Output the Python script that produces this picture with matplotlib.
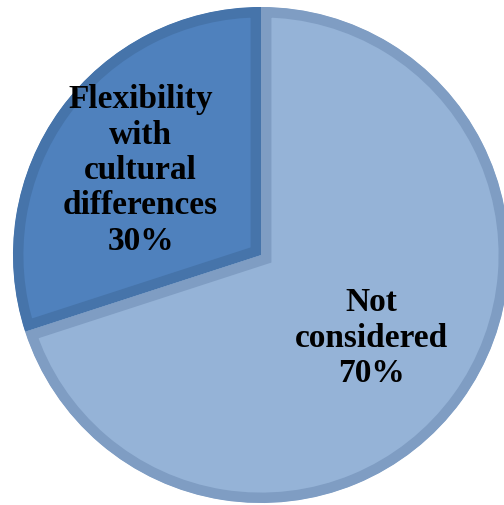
import matplotlib
matplotlib.use("Agg")
import matplotlib.pyplot as plt
import numpy as np

categories = ["Not\nconsidered", "Flexibility\nwith\ncultural\ndifferences"]
values = [70, 30]
fill_colors = ["#95B3D7", "#4F81BD"]
edge_colors = ["#7F9DC3", "#4674AA"]
label_dist = [0.55, 0.60]

W, H = 504, 505
fig = plt.figure(figsize=(W / 100, H / 100), dpi=100)
ax = fig.add_axes([0, 0, 1, 1])
cx, cy, r = 261, H - 255, 248

wedges, _ = ax.pie(values, colors=fill_colors, startangle=90, counterclock=False,
                   center=(cx, cy), radius=r,
                   wedgeprops=dict(linewidth=15, joinstyle="miter"))
ax.set_xlim(0, W)
ax.set_ylim(0, H)
ax.set_aspect("auto")
ax.axis("off")
for w, ec in zip(wedges, edge_colors):
    w.set_edgecolor(ec)
    w.set_clip_on(True)
    w.set_clip_path(w)

total = sum(values)
for w, cat, v, d in zip(wedges, categories, values, label_dist):
    ang = np.deg2rad((w.theta1 + w.theta2) / 2)
    ax.text(cx + d * r * np.cos(ang), cy + d * r * np.sin(ang) - 3,
            f"{cat}\n{round(100 * v / total)}%",
            ha="center", va="center", fontsize=24, fontweight="bold",
            family="Liberation Serif", linespacing=1.18, color="black")

fig.savefig("out.png", dpi=100)
